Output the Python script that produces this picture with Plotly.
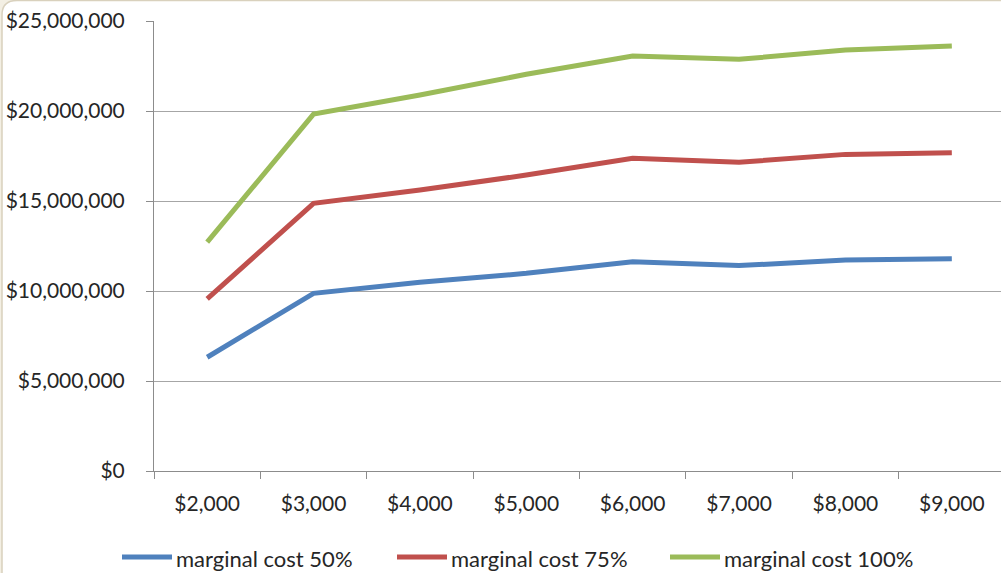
import plotly.graph_objects as go

# Price per unit (category axis)
price_labels = ["$2,000", "$3,000", "$4,000", "$5,000", "$6,000", "$7,000", "$8,000", "$9,000"]

# Total cost in dollars for each marginal cost level
cost_50 = [6320000, 9870000, 10480000, 10980000, 11630000, 11410000, 11720000, 11790000]
cost_75 = [9560000, 14870000, 15610000, 16440000, 17370000, 17150000, 17590000, 17680000]
cost_100 = [12710000, 19830000, 20890000, 22040000, 23060000, 22870000, 23390000, 23610000]

series_names = ["marginal cost 50%", "marginal cost 75%", "marginal cost 100%"]
y_ticks = [0, 5000000, 10000000, 15000000, 20000000, 25000000]
y_tick_labels = ["$0", "$5,000,000", "$10,000,000", "$15,000,000", "$20,000,000", "$25,000,000"]

colors = ["#4F81BD", "#C0504D", "#9BBB59"]

W, H = 1001, 573
L, R, T, B = 154, 0, 21, 102
pw, ph = W - L - R, H - T - B


def px_x(p):
    return (p - L) / pw


def px_y(p):
    return (H - B - p) / ph


fig = go.Figure()
for name, vals, col in zip(series_names, [cost_50, cost_75, cost_100], colors):
    fig.add_trace(go.Scatter(
        x=price_labels, y=vals, name=name, mode="lines",
        line=dict(color=col, width=5), showlegend=False,
    ))

# chart-area frame with a rounded top-left corner
r = 15
frame_path = (
    f"M {px_x(2)},{px_y(H + 20)} L {px_x(2)},{px_y(r)} "
    f"Q {px_x(2)},{px_y(0.5)} {px_x(2 + r)},{px_y(0.5)} "
    f"L {px_x(W + 20)},{px_y(0.5)} L {px_x(W + 20)},{px_y(H + 20)} Z"
)
fig.add_shape(type="path", xref="paper", yref="paper", path=frame_path,
              fillcolor="white", line=dict(color="#d9d1bd", width=1.5), layer="below")

font = dict(family="Lato, 'Open Sans', sans-serif", size=21, color="#262626")

# legend row below the axis: a key line followed by the series name
legend_y = 558
legend_starts = [122, 397, 670]
for name, col, x0 in zip(series_names, colors, legend_starts):
    fig.add_shape(type="line", xref="paper", yref="paper",
                  x0=px_x(x0), x1=px_x(x0 + 50), y0=px_y(legend_y - 1), y1=px_y(legend_y - 1),
                  line=dict(color=col, width=5))
    fig.add_annotation(xref="paper", yref="paper", x=px_x(x0 + 52), y=px_y(legend_y),
                       xanchor="left", yanchor="middle", text=name, showarrow=False,
                       font=dict(family=font["family"], size=22, color="#262626"))

fig.update_layout(
    width=W, height=H,
    margin=dict(l=L, r=R, t=T, b=B, pad=0),
    paper_bgcolor="#f3efe3",
    plot_bgcolor="rgba(0,0,0,0)",
    font=font,
    showlegend=False,
    xaxis=dict(
        type="category", range=[-0.5, 7.5 - 4 / 106.3],
        showgrid=False, showline=True, linecolor="#8c8c8c", linewidth=1,
        ticks="outside", tickson="boundaries", ticklen=7, tickcolor="#8c8c8c",
        tickfont=font, zeroline=False, ticklabelstandoff=14,
    ),
    yaxis=dict(
        range=[0, 25000000], tickvals=y_ticks, ticktext=y_tick_labels,
        showgrid=True, gridcolor="#a6a6a6", gridwidth=1,
        showline=True, linecolor="#8c8c8c", linewidth=1,
        ticks="outside", ticklen=7, tickcolor="#8c8c8c",
        tickfont=font, zeroline=False, ticklabelstandoff=17,
    ),
)

fig.write_html("out.html")
